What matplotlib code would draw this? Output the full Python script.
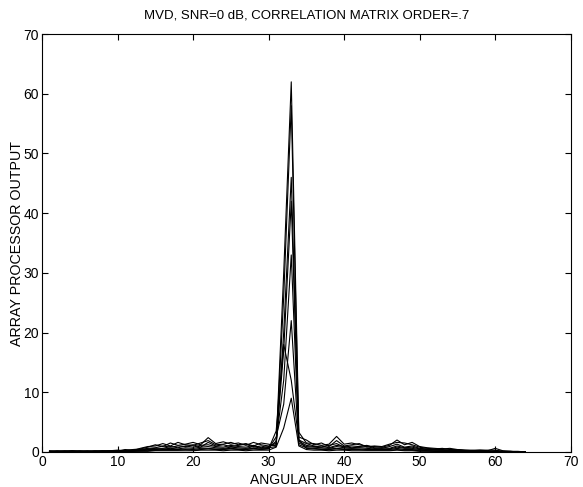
import matplotlib
matplotlib.use('Agg')
import matplotlib.pyplot as plt
import numpy as np

plt.rcParams['font.family'] = ['Liberation Sans', 'DejaVu Sans']

# angular index 1..64, one trace per snapshot
angular_index = np.arange(1, 65)

trace_a = [0.1,0.1,0.2,0.1,0.1,0.2,0.1,0.2,
           0.2,0.3,0.2,0.4,0.5,0.8,1.2,0.9,
           1.5,1.1,1.3,1.6,1.2,2.4,1.4,1.7,
           1.3,1.5,1.1,1.6,1.2,1.0,1.2,30.0,
           62.0,3.3,1.5,1.4,1.1,1.3,2.6,1.3,
           1.5,1.2,1.0,0.9,0.8,1.1,2.0,1.2,
           1.6,0.9,0.7,0.6,0.5,0.6,0.4,0.3,
           0.3,0.3,0.2,0.6,0.2,0.1,0.1,0.0]
trace_b = [0.2,0.1,0.1,0.2,0.1,0.1,0.2,0.1,
           0.1,0.2,0.3,0.2,0.6,0.9,1.0,1.4,
           1.0,1.6,1.2,1.1,1.5,1.9,1.2,1.3,
           1.6,1.2,1.4,1.0,1.5,1.3,1.0,26.0,
           58.0,2.5,2.0,1.2,1.5,0.9,1.9,1.0,
           1.2,1.4,0.8,1.0,0.9,1.3,1.6,1.5,
           1.2,0.8,0.6,0.5,0.6,0.4,0.4,0.3,
           0.2,0.3,0.3,0.3,0.1,0.1,0.0,0.0]
trace_c = [0.1,0.2,0.1,0.1,0.2,0.1,0.1,0.1,
           0.2,0.1,0.4,0.3,0.4,0.6,0.7,1.0,
           0.8,1.0,0.9,1.2,0.8,1.6,1.0,1.2,
           0.9,1.1,1.3,0.8,1.0,0.7,0.9,20.0,
           46.0,2.0,1.4,1.0,0.8,1.1,1.4,0.8,
           1.0,0.9,1.1,0.7,0.6,0.9,1.3,0.8,
           1.0,0.6,0.5,0.4,0.4,0.3,0.3,0.2,
           0.2,0.2,0.1,0.2,0.1,0.1,0.0,0.0]
trace_d = [0.1,0.1,0.1,0.2,0.1,0.1,0.1,0.2,
           0.1,0.2,0.2,0.3,0.3,0.5,0.6,0.6,
           0.9,0.7,1.0,0.8,1.1,1.2,0.9,0.8,
           1.1,0.9,0.8,1.1,0.7,0.9,1.5,17.0,
           42.0,1.8,1.1,0.9,1.0,0.7,1.1,0.9,
           0.7,0.8,0.9,0.6,0.7,0.6,1.0,0.7,
           0.8,0.5,0.4,0.4,0.3,0.3,0.2,0.2,
           0.1,0.2,0.1,0.1,0.1,0.0,0.0,0.0]
trace_e = [0.0,0.1,0.1,0.1,0.1,0.1,0.1,0.1,
           0.1,0.1,0.2,0.2,0.3,0.4,0.4,0.5,
           0.6,0.5,0.7,0.6,0.8,0.9,0.7,0.6,
           0.8,0.7,0.6,0.9,0.6,0.7,1.8,12.0,
           33.0,1.5,0.9,0.8,0.7,0.6,0.9,0.7,
           0.6,0.7,0.6,0.5,0.5,0.5,0.8,0.6,
           0.6,0.4,0.3,0.3,0.3,0.2,0.2,0.1,
           0.1,0.1,0.1,0.1,0.0,0.0,0.0,0.0]
trace_f = [0.0,0.0,0.1,0.0,0.1,0.0,0.1,0.1,
           0.1,0.1,0.1,0.2,0.2,0.3,0.3,0.4,
           0.4,0.4,0.5,0.4,0.6,0.6,0.5,0.5,
           0.6,0.5,0.5,0.6,0.5,0.6,2.5,8.0,
           22.0,1.2,0.7,0.6,0.5,0.5,0.6,0.5,
           0.5,0.5,0.4,0.4,0.4,0.4,0.6,0.4,
           0.4,0.3,0.2,0.2,0.2,0.1,0.1,0.1,
           0.1,0.1,0.0,0.1,0.0,0.0,0.0,0.0]
trace_g = [0.0,0.0,0.0,0.1,0.0,0.0,0.1,0.0,
           0.1,0.1,0.1,0.1,0.2,0.2,0.3,0.3,
           0.3,0.3,0.4,0.3,0.4,0.5,0.4,0.4,
           0.5,0.4,0.4,0.5,0.4,0.5,3.5,18.0,
           12.0,2.0,0.6,0.5,0.4,0.4,0.5,0.4,
           0.4,0.4,0.3,0.3,0.3,0.3,0.4,0.3,
           0.3,0.2,0.2,0.1,0.1,0.1,0.1,0.1,
           0.0,0.0,0.0,0.0,0.0,0.0,0.0,0.0]
trace_h = [0.0,0.0,0.0,0.0,0.0,0.0,0.0,0.0,
           0.0,0.1,0.1,0.1,0.1,0.1,0.2,0.2,
           0.2,0.2,0.2,0.2,0.3,0.3,0.3,0.2,
           0.3,0.3,0.2,0.3,0.3,0.3,0.8,4.0,
           9.0,1.0,0.4,0.3,0.3,0.2,0.3,0.3,
           0.2,0.2,0.2,0.2,0.2,0.2,0.3,0.2,
           0.2,0.1,0.1,0.1,0.1,0.1,0.1,0.0,
           0.0,0.0,0.0,0.0,0.0,0.0,0.0,0.0]

traces = [trace_a, trace_b, trace_c, trace_d, trace_e, trace_f, trace_g, trace_h]

fig = plt.figure(figsize=(5.83, 4.87), dpi=100)
ax = fig.add_axes([0.072, 0.072, 0.907, 0.858])

for t in traces:
    ax.plot(angular_index, t, color='k', linewidth=0.8)

ax.set_xlim(0, 70)
ax.set_ylim(0, 70)
ax.set_xticks(range(0, 71, 10))
ax.set_yticks(range(0, 71, 10))
ax.tick_params(direction='in', top=True, right=True, labelsize=10, length=4, pad=2)
ax.set_title('MVD, SNR=0 dB, CORRELATION MATRIX ORDER=.7', fontsize=9.5, pad=11)
ax.set_xlabel('ANGULAR INDEX', fontsize=10, labelpad=3)
ax.set_ylabel('ARRAY PROCESSOR OUTPUT', fontsize=10.3, labelpad=0)

fig.savefig('out.png', dpi=100)
